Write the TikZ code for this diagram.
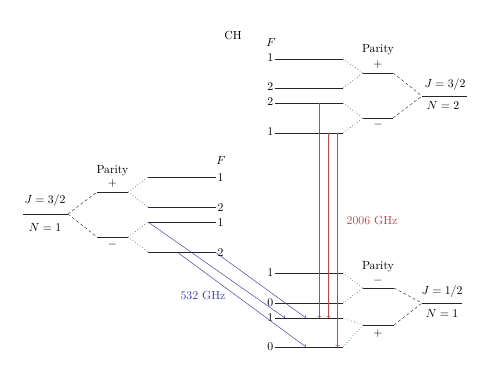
\documentclass[tikz,border=0pt]{standalone}
\usetikzlibrary{calc}
\definecolor{tblue}{RGB}{60,60,200}
\definecolor{tred}{RGB}{195,70,70}
\begin{document}
\begin{tikzpicture}[x=0.85pt,y=-0.85pt,
  lvl/.style={line width=0.8pt,black!85},
  dsh/.style={dashed,dash pattern=on 2.5pt off 2pt,line width=0.4pt,black!80},
  dtd/.style={dotted,line width=0.5pt,black!80},
  lbl/.style={inner sep=0pt},
  bl/.style={->,tblue,line width=0.4pt},
  rd/.style={->,tred,line width=0.45pt}]
\useasboundingbox (0,0) rectangle (491,376);
\node[lbl] (title) at (233,35) {CH};

% ---------- left: J=3/2, N=1 ----------
\coordinate (LJa) at (23,214); \coordinate (LJb) at (68,214);
\draw[lvl] (LJa) -- (LJb);
\node[lbl] (LJt) at (45,201) {$J=3/2$};
\node[lbl] (LNt) at (45,227) {$N=1$};
\coordinate (LPa) at (97,192); \coordinate (LPb) at (128,192);
\coordinate (LMa) at (97,237); \coordinate (LMb) at (128,237);
\draw[lvl] (LPa) -- (LPb);
\draw[lvl] (LMa) -- (LMb);
\node[lbl] (LPar) at (112.5,171) {Parity};
\node[lbl] (LPs) at (112.5,184) {$+$};
\node[lbl] (LMs) at (112.5,245) {$-$};
\draw[dsh] (LJb) -- (LPa);
\draw[dsh] (LJb) -- (LMa);
\foreach \n/\y/\f in {1/177/1,2/207/2,3/222/1,4/252/2}{
  \coordinate (LF\n a) at (148,\y); \coordinate (LF\n b) at (216,\y);
  \draw[lvl] (LF\n a) -- (LF\n b);
  \node[lbl,anchor=west] (LF\n t) at (217.5,\y+1) {\f};
}
\node[lbl] (LFh) at (221,160) {$F$};
\draw[dtd] (LPb) -- (LF1a);
\draw[dtd] (LPb) -- (LF2a);
\draw[dtd] (LMb) -- (LF3a);
\draw[dtd] (LMb) -- (LF4a);

% ---------- upper right: J=3/2, N=2 ----------
\foreach \n/\y/\f in {1/59/1,2/88/2,3/103/2,4/133/1}{
  \coordinate (UF\n a) at (275,\y); \coordinate (UF\n b) at (343,\y);
  \draw[lvl] (UF\n a) -- (UF\n b);
  \node[lbl,anchor=east] (UF\n t) at (273.5,\y-1) {\f};
}
\node[lbl] (UFh) at (271,42) {$F$};
\coordinate (UPa) at (363,73); \coordinate (UPb) at (393,73);
\coordinate (UMa) at (363,118); \coordinate (UMb) at (393,118);
\draw[lvl] (UPa) -- (UPb);
\draw[lvl] (UMa) -- (UMb);
\node[lbl] (UPar) at (378,50) {Parity};
\node[lbl] (UPs) at (378,65) {$+$};
\node[lbl] (UMs) at (378,125) {$-$};
\draw[dtd] (UF1b) -- (UPa);
\draw[dtd] (UF2b) -- (UPa);
\draw[dtd] (UF3b) -- (UMa);
\draw[dtd] (UF4b) -- (UMa);
\coordinate (UJa) at (422,96); \coordinate (UJb) at (467,96);
\draw[lvl] (UJa) -- (UJb);
\draw[dsh] (UPb) -- (UJa);
\draw[dsh] (UMb) -- (UJa);
\node[lbl] (UJt) at (445,85) {$J=3/2$};
\node[lbl] (UNt) at (443,105) {$N=2$};

% ---------- lower right: J=1/2, N=1 ----------
\foreach \n/\y/\f in {1/273/1,2/303/0,3/318/1,4/347/0}{
  \coordinate (DF\n a) at (275,\y); \coordinate (DF\n b) at (343,\y);
  \draw[lvl] (DF\n a) -- (DF\n b);
  \node[lbl,anchor=east] (DF\n t) at (273.5,\y) {\f};
}
\coordinate (DMa) at (363,288); \coordinate (DMb) at (394,288);
\coordinate (DPa) at (363,325); \coordinate (DPb) at (394,325);
\draw[lvl] (DMa) -- (DMb);
\draw[lvl] (DPa) -- (DPb);
\node[lbl] (DPar) at (378,267) {Parity};
\node[lbl] (DMs) at (378,281) {$-$};
\node[lbl] (DPs) at (378,334) {$+$};
\draw[dtd] (DF1b) -- (DMa);
\draw[dtd] (DF2b) -- (DMa);
\draw[dtd] (DF3b) -- (DPa);
\draw[dtd] (DF4b) -- (DPa);
\coordinate (DJa) at (422,303); \coordinate (DJb) at (462,303);
\draw[lvl] (DJa) -- (DJb);
\draw[dsh] (DMb) -- (DJa);
\draw[dsh] (DPb) -- (DJa);
\node[lbl] (DJt) at (442,292) {$J=1/2$};
\node[lbl] (DNt) at (442,313) {$N=1$};

% ---------- transitions ----------
\coordinate (R1s) at (319.5,103); \coordinate (R1e) at (319.5,318);
\coordinate (R2s) at (328.5,133); \coordinate (R2e) at (328.5,318);
\coordinate (R3s) at (337.5,133); \coordinate (R3e) at (337.5,347);
\draw[rd] (R1s) -- (R1e);
\draw[rd] (R2s) -- (R2e);
\draw[rd] (R3s) -- (R3e);
\node[lbl,tred] (Rt) at (372,220) {2006 GHz};

\coordinate (B1e) at (285,318);
\coordinate (B2s) at (215,252); \coordinate (B2e) at (306,318);
\coordinate (B3s) at (177,252); \coordinate (B3e) at (306,347);
\draw[bl] (LF3a) -- (B1e);
\draw[bl] (B2s) -- (B2e);
\draw[bl] (B3s) -- (B3e);
\node[lbl,tblue] (Bt) at (203,295) {532 GHz};
\end{tikzpicture}
\end{document}
